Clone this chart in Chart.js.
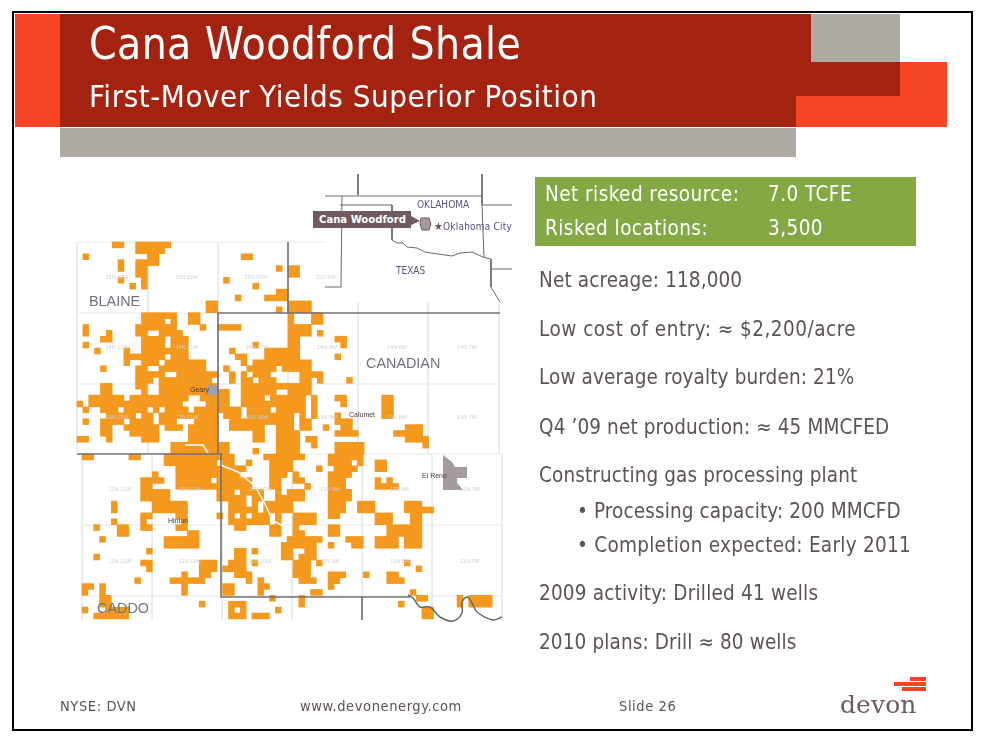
<!DOCTYPE html>
<html><head><meta charset="utf-8">
<script src="https://cdn.jsdelivr.net/npm/chart.js@4"></script>
<style>
html,body{margin:0;padding:0;background:#fff;width:988px;height:742px;overflow:hidden}
.b{position:absolute}
.t{position:absolute;white-space:nowrap;line-height:1;transform:translateY(-50%);font-family:"DejaVu Sans Condensed","DejaVu Sans",sans-serif;z-index:3}
.r{color:#5c5358;font-size:20.5px;letter-spacing:.12px}
.g{color:#fff;font-size:20.5px;letter-spacing:.45px}
.f{color:#5c5358;font-size:14.5px;letter-spacing:.6px}
.n{color:#cfd0d2;font-size:5.5px;transform:translate(-50%,-50%);font-family:"Liberation Sans",sans-serif}
.c{color:#4a3b3b;font-size:7px;font-family:"Liberation Sans",sans-serif}
.k{color:#70747a;font-size:14.4px;font-family:"Liberation Sans",sans-serif}
.i{color:#5a5080;font-size:10px}
canvas{position:absolute;left:0;top:0;z-index:2}
</style></head><body>
<div class="b" style="left:12px;top:11px;width:957px;height:716px;border:2.5px solid #000"></div>
<div class="b" style="left:15px;top:14px;width:45px;height:113px;background:#f54525"></div>
<div class="b" style="left:796px;top:62px;width:151px;height:65px;background:#f54525"></div>
<div class="b" style="left:60px;top:14px;width:736px;height:113px;background:#a32310"></div>
<div class="b" style="left:796px;top:14px;width:15px;height:82px;background:#a32310"></div>
<div class="b" style="left:811px;top:62px;width:89px;height:34px;background:#a32310"></div>
<div class="b" style="left:811px;top:14px;width:89px;height:48px;background:#aea9a2"></div>
<div class="b" style="left:60px;top:128px;width:736px;height:29px;background:#aea9a2"></div>
<div class="b" style="left:535px;top:177px;width:381px;height:69px;background:#84a844"></div>
<div class="b" style="left:910px;top:677px;width:16px;height:3.5px;background:#f54525"></div>
<div class="b" style="left:894px;top:682px;width:32px;height:4px;background:#f54525"></div>
<div class="b" style="left:902px;top:687px;width:24px;height:4px;background:#f54525"></div>

<div class="t" style="left:89px;top:44px;color:#fff;font-size:44px;letter-spacing:.37px">Cana Woodford Shale</div>
<div class="t" style="left:89px;top:96px;color:#fff;font-size:31px;letter-spacing:.55px">First-Mover Yields Superior Position</div>
<div class="t g" style="left:545px;top:194px">Net risked resource:</div>
<div class="t g" style="left:768px;top:194px">7.0 TCFE</div>
<div class="t g" style="left:545px;top:228px">Risked locations:</div>
<div class="t g" style="left:768px;top:228px">3,500</div>
<div class="t r" style="left:539px;top:280px">Net acreage: 118,000</div>
<div class="t r" style="left:539px;top:329px;letter-spacing:.5px">Low cost of entry: ≈ $2,200/acre</div>
<div class="t r" style="left:539px;top:377px">Low average royalty burden: 21%</div>
<div class="t r" style="left:539px;top:427px">Q4 ’09 net production: ≈ 45 MMCFED</div>
<div class="t r" style="left:539px;top:475px">Constructing gas processing plant</div>
<div class="t r" style="left:577px;top:511px">• Processing capacity: 200 MMCFD</div>
<div class="t r" style="left:577px;top:545px;letter-spacing:.27px">• Completion expected: Early 2011</div>
<div class="t r" style="left:539px;top:593px;letter-spacing:.2px">2009 activity: Drilled 41 wells</div>
<div class="t r" style="left:539px;top:642px">2010 plans: Drill ≈ 80 wells</div>
<div class="t f" style="left:60px;top:706px">NYSE: DVN</div>
<div class="t f" style="left:300px;top:706px">www.devonenergy.com</div>
<div class="t f" style="left:619px;top:706px">Slide 26</div>
<div class="t" style="left:840px;top:704px;color:#6b5a60;font-size:25px;font-family:'DejaVu Serif',serif;letter-spacing:.1px">devon</div>

<div class="b" style="left:313px;top:211px;width:98px;height:17px;background:#6e5a60;z-index:3"></div>
<div class="t" style="left:319px;top:220px;color:#fff;font-size:11.2px;font-weight:bold">Cana Woodford</div>
<div class="t i" style="left:417px;top:205px">OKLAHOMA</div>
<div class="t i" style="left:396px;top:271px">TEXAS</div>
<div class="t i" style="left:434px;top:226px;letter-spacing:.2px"><span style="color:#6e5a60;font-size:11px">★</span>Oklahoma City</div>
<div class="t k" style="left:89px;top:301px">BLAINE</div>
<div class="t k" style="left:366px;top:363px">CANADIAN</div>
<div class="t k" style="left:97px;top:608px">CADDO</div>
<div class="t c" style="left:190px;top:389px">Geary</div>
<div class="t c" style="left:349px;top:414px">Calumet</div>
<div class="t c" style="left:168px;top:520px">Hinton</div>
<div class="t c" style="left:422px;top:475px">El Reno</div>
<div id="townships"></div>
<canvas id="map" width="988" height="742"></canvas>
<script>
// Township labels on the map
const upperTownshipColumns=["12W","11W","10W","9W","8W","7W"];
const topRowLabels=["15N 12W","15N 11W","15N 10W","15N 9W"];
const rowNames=["14N","13N","12N","11N"];

// Acreage blocks, in half-section map units: [column, row, widthCols, heightRows]
const northTierAcreage=[[6,0,2,1],[10,0,6,1],[10,1,5,1],[12,2,2,1],[10,3,4,1],[10,4,2,2],[1,2,1,1],[7,3,1,2],[7,6,1,1],[9,7,1,1],[11,6,1,2],
[28,2,2,1],[34,4,1,1],[25,6,1,1],[30,7,1,1],[27,9,1,1],[32,9,4,1],[34,8,2,1],[34,11,1,1],[22,10,2,2],
[36,4,2,2],[34,8,2,2],[36,10,4,2]];
const westMiddleAcreage=[[11,12,6,1],[19,12,2,1],[11,13,4,1],[16,13,1,1],[19,13,2,1],[1,14,1,1],[10,14,7,1],[21,14,1,1],
[1,15,1,1],[5,15,1,1],[10,15,2,1],[14,15,3,1],[17,15,1,1],[4,16,2,1],[11,16,4,1],[16,16,3,1],[1,17,1,1],[11,17,4,1],[16,17,3,1],
[3,18,1,1],[8,18,1,1],[11,18,4,1],[15,18,4,1],[8,19,7,1],[16,19,3,1],[8,20,1,1],[11,20,3,1],[15,20,5,1],[20,20,2,1],
[4,21,1,1],[10,21,2,1],[14,21,8,1],[10,22,5,1],[17,22,7,1],[10,23,3,1],[14,23,9,1],[4,24,2,1],[10,24,2,1],[14,24,10,1],
[4,25,2,1],[11,25,1,1],[14,25,10,1],[2,26,1,1],[3,26,5,1],[9,26,10,1],[21,26,3,1],[0,27,1,1],[2,27,1,1],[3,27,15,1],[22,27,2,1],
[1,28,1,1],[4,28,3,1],[8,28,4,1],[13,28,1,1],[15,28,4,1],[20,28,4,1],[5,29,5,1],[11,29,2,1],[14,29,10,1],
[1,30,1,1],[4,30,4,1],[9,30,4,1],[14,30,3,1],[20,30,4,1],[4,31,2,1],[8,31,6,1],[15,31,3,1],[19,31,5,1],
[4,32,2,1],[9,32,5,1],[19,32,5,1],[0,33,2,1],[5,33,1,1],[11,33,3,1],[19,33,5,1],[16,34,8,1],[16,35,8,1]];
const eastMiddleAcreage=[[36,12,1,1],[40,12,2,1],[36,13,1,1],[40,13,2,1],[24,14,3,1],[27,14,1,1],[36,14,4,1],[36,15,4,1],[41,15,1,1],
[36,16,2,1],[44,16,2,1],[30,17,1,1],[36,17,2,1],[45,17,1,1],[26,18,1,1],[32,18,6,1],[27,19,2,1],[32,19,6,1],[44,19,1,1],
[28,20,1,1],[30,20,8,1],[38,20,2,1],[25,21,1,1],[29,21,1,1],[30,21,4,1],[35,21,5,1],[26,22,1,1],[28,22,1,1],[30,22,3,1],[38,22,4,1],
[26,23,1,1],[28,23,2,1],[31,23,3,1],[38,23,2,1],[41,23,1,1],[46,23,1,1],[28,24,12,1],[24,25,2,1],[28,25,6,1],[36,25,4,1],
[24,26,2,1],[28,26,4,1],[33,26,6,1],[40,26,1,1],[44,26,2,1],[24,27,2,1],[28,27,11,1],[40,27,1,1],[45,27,1,1],
[24,28,4,1],[29,28,4,1],[34,28,5,1],[40,28,1,1],[25,29,3,1],[29,29,8,1],[38,29,1,1],[40,29,1,1],[44,29,1,1],
[26,30,11,1],[38,30,2,1],[44,30,3,1],[26,31,6,1],[34,31,3,1],[38,31,2,1],[42,31,1,1],[45,31,2,1],
[30,32,2,1],[34,32,4,1],[44,32,3,1],[47,32,1,1],[30,33,2,1],[34,33,4,1],[39,33,2,1],[24,34,2,1],[34,34,4,1],[40,34,1,1],[44,34,5,1],
[24,35,2,1],[30,35,1,1],[34,35,4,1],[44,35,5,1]];
const farEastUpperAcreage=[[52,26,2,4],[54,32,4,1],[56,31,2,2],[58,31,1,1],[56,32,3,2],[59,33,1,2]];
const southWestAcreage=[[0,0,2,1],[8,0,2,1],[14,0,9,2],[16,2,7,2],[16,4,6,1],[16,5,7,1],[12,3,1,1],[12,4,2,1],[10,4,2,4],[12,6,3,2],[12,8,6,2],[10,10,2,1],[10,11,1,1],[10,12,2,1],[16,10,2,1],[17,11,1,1],[16,12,2,1],
[5,8,1,2],[5,11,1,1],[2,12,1,1],[6,12,2,2],[3,14,1,1],[14,14,6,2],[18,13,2,1],[11,16,1,1],[2,17,1,1],[11,18,1,2],[10,18,1,1],[9,21,1,1],
[20,18,3,2],[20,20,2,1],[15,21,6,1],[17,20,1,1],[17,22,1,2],[0,22,2,1],[0,23,1,1],[3,22,1,2],[3,24,2,2],[4,26,4,1],[2,27,6,1],[0,26,1,1],[20,25,1,1]];
const southMiddleAcreage=[[23,0,3,1],[31,0,7,1],[42,0,6,1],[24,1,2,1],[28,1,1,1],[32,1,4,1],[42,1,4,1],[47,1,1,1],
[23,2,5,1],[32,2,4,1],[40,2,1,1],[43,2,4,1],[23,3,4,1],[32,3,3,1],[36,3,1,1],[42,3,4,1],[23,4,6,1],[32,4,2,1],[36,4,2,1],[42,4,3,1],
[23,5,6,1],[32,5,2,1],[38,5,1,1],[42,5,3,1],[23,6,3,1],[27,6,4,1],[33,6,1,1],[35,6,3,1],[42,6,4,1],
[23,7,5,1],[29,7,2,1],[33,7,2,1],[35,7,3,1],[42,7,4,1],[25,8,3,1],[29,8,1,1],[31,8,5,1],[42,8,3,1],[47,8,1,1],
[25,9,5,1],[31,9,5,1],[42,9,3,1],[47,9,1,1],[23,10,1,1],[25,10,1,1],[27,10,1,1],[29,10,3,1],[33,10,1,1],[36,10,4,1],[42,10,2,1],
[25,11,4,1],[29,11,3,1],[33,11,1,1],[36,11,4,1],[26,12,2,1],[32,12,2,1],[36,12,1,1],[42,12,2,1],[32,13,2,1],[36,13,2,1],[42,13,2,1],
[35,14,6,1],[45,14,3,1],[34,15,6,1],[42,15,1,1],[46,15,2,1],[26,16,2,1],[29,16,1,1],[34,16,2,1],[38,16,2,1],[26,17,2,1],[34,17,2,1],[37,17,3,1],
[25,18,3,1],[29,18,1,1],[36,18,3,1],[40,18,1,1],[24,19,4,1],[36,19,3,1],[26,20,3,1],[36,20,3,1],[42,20,3,1],
[28,21,1,1],[30,21,1,1],[37,21,3,1],[42,21,2,1],[24,22,2,1],[30,22,2,1],[42,22,1,1],[24,23,2,1],[30,23,1,1]];
const southEastAcreage=[[48,8,2,2],[50,5,4,1],[50,4,1,1],[52,4,1,1],[50,1,2,2],[50,10,3,2],[52,12,4,2],[52,14,2,2],[55,14,3,2],[56,8,2,6],[55,8,1,2],[58,9,2,1],[50,14,2,2],
[48,20,1,1],[52,20,2,2],[54,21,1,1],[55,18,1,1],[57,19,1,1]];
const southEdgeAcreage=[[32,24,1,1],[25,25,3,1],[25,26,1,1],[27,26,1,1],[25,27,3,1],[29,27,3,1],[33,26,1,1],[37,24,1,2],[39,23,2,1],[54,25,1,1],[58,26,2,2],[64,24,1,2],[66,24,4,2],[56,23,1,1],[57,24,2,1]];

// Map linework: [x, y] in map-scale units
const countyLineA=[[218,454],[218,313],[500,313]];
const countyLineB=[[288,242],[288,313]];
const countyLineC=[[77,454],[221,454],[221,597],[410,597]];
const countyLineD=[[362,597],[362,620]];
const riverCourse=[[408,595],[413,598],[420,607],[430,607],[440,617],[453,621],[462,613],[462,602],[467,597],[472,603],[477,612],[493,620],[502,617]];
const gridUpperX=[148,218,288,358,428,499];
const gridLowerX=[82,152,222,292,362,432,502];
const gridUpperY=[242,313,384];
const gridLowerY=[525,596];
const elRenoTown=[[443,455],[452,462],[455,467],[467,467],[467,478],[457,478],[457,483],[463,490],[443,490],[443,455]];
const gearyTown=[[208,385],[219,385],[219,395],[208,395],[208,385]];
const highwayTrace=[[218,464],[238,472],[255,486],[265,504],[273,521],[290,529]];
const highwayTraceB=[[185,445],[203,445],[208,453]];
const insetLines=[
 [[358,174],[358,195]],
 [[325,196],[482,196]],
 [[482,174],[482,205],[484,257]],
 [[342,196],[341,287],[325,287]],
 [[340,205],[392,205],[392,240],[397,243],[403,243],[407,247],[417,248],[425,252],[438,254],[452,256],[460,253],[472,252],[483,257],[491,259],[491,287],[500,302]],
 [[482,205],[512,205]],
 [[491,269],[512,269]]];
const calloutArrow=[[411,216],[420,221],[411,225],[411,216]];
const insetPlay=[[421,218],[429,218],[431,224],[429,230],[422,230],[420,224],[421,218]];

const ORANGE='#f4991d';
function cells(blocks,ox,oy){
  const seen=new Set(),pts=[];
  blocks.forEach(([c,r,w,h])=>{for(let i=0;i<w;i++)for(let j=0;j<h;j++){
    const k=(c+i)+','+(r+j);
    if(seen.has(k))continue;seen.add(k);
    pts.push({x:ox+(c+i+.5)*5.86,y:oy+(r+j+.5)*5.89});
  }});
  return pts;
}
const toPts=a=>a.map(([x,y])=>({x,y}));
const line=(a,color,w,extra)=>Object.assign({type:'line',data:toPts(a),borderColor:color,borderWidth:w,pointRadius:0,tension:0,fill:false},extra||{});
const gridC='#e9eaeb';
const ds=[];
gridUpperX.forEach(x=>ds.push(line([[x,x===358||x===428||x===499?302:242],[x,454]],gridC,1)));
ds.push(line([[77,242],[77,454]],gridC,1));
gridLowerX.forEach(x=>ds.push(line([[x,454],[x,620]],gridC,1)));
ds.push(line([[77,242],[325,242]],gridC,1));
ds.push(line([[77,313],[218,313]],gridC,1));
gridUpperY.slice(2).forEach(y=>ds.push(line([[77,y],[499,y]],gridC,1)));
ds.push(line([[292,454],[502,454]],gridC,1));
gridLowerY.forEach(y=>ds.push(line([[82,y],[502,y]],gridC,1)));
const upperCells=cells(northTierAcreage.concat(westMiddleAcreage,eastMiddleAcreage,farEastUpperAcreage),77,242);
const lowerCells=cells(southWestAcreage.concat(southMiddleAcreage,southEastAcreage,southEdgeAcreage),82,454);
ds.push({type:'scatter',label:'Devon acreage',data:upperCells.concat(lowerCells),
  pointStyle:'rect',pointRadius:4.6,pointBorderWidth:0,backgroundColor:ORANGE,borderColor:ORANGE});
ds.push(line(highwayTrace,'#ffffff',1.5));
ds.push(line(highwayTraceB,'#ffffff',1.5));
ds.push(line(elRenoTown,'#a59a9c',0,{fill:'shape',backgroundColor:'#a59a9c'}));
ds.push(line(gearyTown,'#a0a0ac',0,{fill:'shape',backgroundColor:'#a0a0ac'}));
[countyLineA,countyLineB,countyLineC,countyLineD].forEach(a=>ds.push(line(a,'#707274',1.6)));
ds.push(line(riverCourse,'#5f6a66',1.5,{tension:.35}));
insetLines.forEach(a=>ds.push(line(a,'#6a6a6a',1)));
ds.push(line(calloutArrow,'#6e5a60',0,{fill:'shape',backgroundColor:'#6e5a60'}));
ds.push(line(insetPlay,'#6e5a60',1,{fill:'shape',backgroundColor:'#a59a9c'}));
// Chart.js paints higher "order" first, so later entries end up on top
ds.forEach((d,i)=>{d.order=ds.length-i;});

new Chart(document.getElementById('map').getContext('2d'),{
  type:'scatter',data:{datasets:ds},
  options:{responsive:false,animation:false,devicePixelRatio:1,layout:{padding:0,autoPadding:false},
    plugins:{legend:{display:false},tooltip:{enabled:false}},
    scales:{x:{type:'linear',min:0,max:988,display:false},y:{type:'linear',min:0,max:742,reverse:true,display:false}}}
});
const tw=document.getElementById('townships');
function addLabel(s,x,y){const d=document.createElement('div');d.className='t n';d.style.left=x+'px';d.style.top=y+'px';d.textContent=s;tw.appendChild(d);}
topRowLabels.forEach((s,i)=>addLabel(s,117+i*69.5,278));
rowNames.forEach((n,ri)=>upperTownshipColumns.forEach((c,ci)=>{
  const lower=ri>=2;
  addLabel(n+' '+c,(lower?120:117)+ci*70,[348,418,490,562][ri]);
}));
</script>
</body></html>
